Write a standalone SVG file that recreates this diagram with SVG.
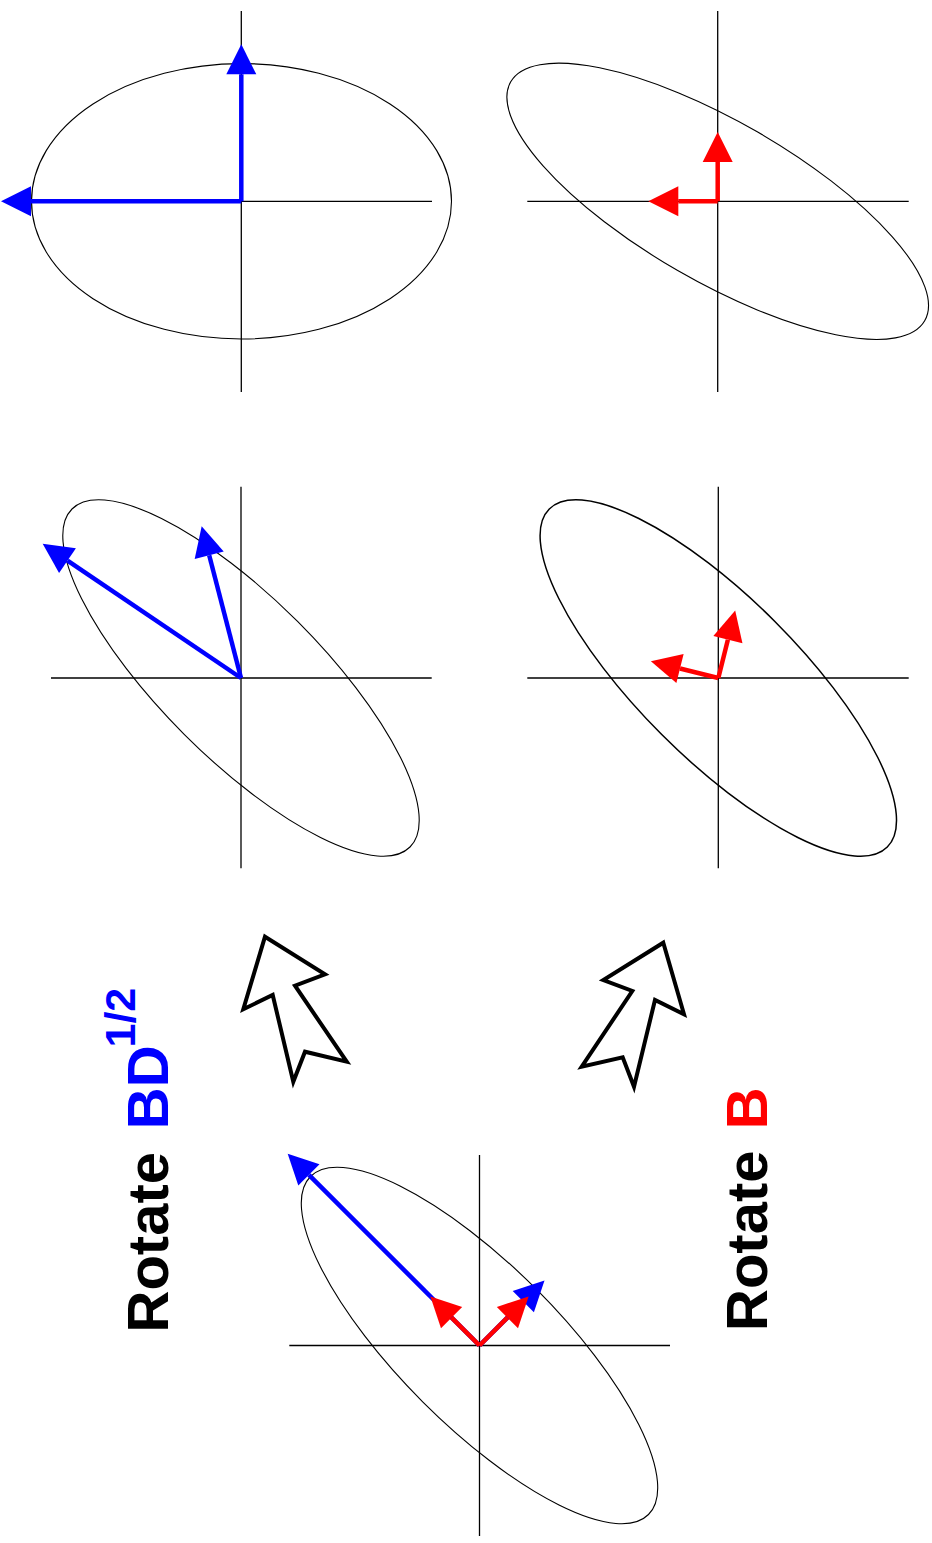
<svg xmlns="http://www.w3.org/2000/svg" width="932" height="1543" viewBox="0 0 932 1543">
<style>
.ax{stroke:#000;stroke-width:1.3;fill:none}
.el{stroke:#000;stroke-width:1.1;fill:none}
.bv{stroke:#0000ff;stroke-width:4.5;fill:none;marker-end:url(#ab)}
.rv{stroke:#ff0000;stroke-width:4.5;fill:none;marker-end:url(#ar)}
.big{fill:#fff;stroke:#000;stroke-width:4;stroke-linejoin:miter}
.lbl{font-family:"Liberation Sans",Arial,sans-serif;font-weight:bold;font-size:58px;fill:#000}
</style>
<defs>
<marker id="ab" markerUnits="userSpaceOnUse" markerWidth="30" markerHeight="30" refX="0" refY="13" viewBox="0 0 26 26" orient="auto" overflow="visible"><path d="M0,0 L26,13 L0,26 z" fill="#0000ff"/></marker>
<marker id="ar" markerUnits="userSpaceOnUse" markerWidth="30" markerHeight="30" refX="0" refY="13" viewBox="0 0 26 26" orient="auto" overflow="visible"><path d="M0,0 L26,13 L0,26 z" fill="#ff0000"/></marker>
</defs>
<rect width="932" height="1543" fill="#fff"/>

<g id="panel-top-left">
<line class="ax" x1="241.3" y1="11" x2="241.3" y2="392"/>
<line class="ax" x1="51" y1="201.3" x2="432" y2="201.3"/>
<ellipse class="el" cx="241.5" cy="201.3" rx="210" ry="137.7"/>
<line class="bv" x1="241.3" y1="201.3" x2="241.3" y2="74.3"/>
<line class="bv" x1="241.3" y1="201.3" x2="31" y2="201.3"/>
</g>

<g id="panel-top-right">
<line class="ax" x1="717.7" y1="11" x2="717.7" y2="392"/>
<line class="ax" x1="527.3" y1="201.3" x2="908.7" y2="201.3"/>
<ellipse class="el" cx="0" cy="0" rx="239" ry="80" transform="translate(717.7,201.3) rotate(30)"/>
<line class="rv" x1="717.7" y1="201.3" x2="717.7" y2="162"/>
<line class="rv" x1="717.7" y1="201.3" x2="678.3" y2="201.3"/>
</g>

<g id="panel-mid-left">
<line class="ax" x1="241" y1="486.7" x2="241" y2="868.3"/>
<line class="ax" x1="51" y1="678" x2="431.7" y2="678"/>
<ellipse class="el" cx="0" cy="0" rx="239" ry="80" transform="translate(241,678) rotate(45)"/>
<line class="bv" x1="241" y1="678" x2="67.5" y2="560.6"/>
<line class="bv" x1="241" y1="678" x2="209.2" y2="555.2"/>
</g>

<g id="panel-mid-right">
<line class="ax" x1="718.3" y1="486.7" x2="718.3" y2="868.3"/>
<line class="ax" x1="527.3" y1="678" x2="908.7" y2="678"/>
<ellipse class="el" style="stroke-width:1.5" cx="0" cy="0" rx="239" ry="80" transform="translate(718.3,678) rotate(45)"/>
<line class="rv" x1="718.3" y1="678" x2="727.9" y2="639.7"/>
<line class="rv" x1="718.3" y1="678" x2="680" y2="668.5"/>
</g>

<g id="panel-bottom">
<line class="ax" x1="479.5" y1="1155" x2="479.5" y2="1536"/>
<line class="ax" x1="289.3" y1="1345.5" x2="670" y2="1345.5"/>
<ellipse class="el" cx="0" cy="0" rx="239" ry="80" transform="translate(479.5,1345.5) rotate(45)"/>
<line class="bv" x1="479.5" y1="1345.5" x2="308.9" y2="1174.9"/>
<line class="bv" x1="479.5" y1="1345.5" x2="523.3" y2="1301.7"/>
<line class="rv" x1="479.5" y1="1345.5" x2="451.6" y2="1317.6"/>
<line class="rv" x1="479.5" y1="1345.5" x2="507.4" y2="1317.6"/>
</g>

<g id="connectors">
<polygon id="arrow-left" class="big" points="265,936.7 325,974.3 295,985.7 346.7,1061.7 305,1051.7 293.3,1081.7 272.7,995 243.3,1009.3"/>
<polygon id="arrow-right" class="big" points="663.3,942.7 684,1014.3 655,1000 634,1086.7 622.7,1057.3 581.7,1066.7 632.3,991 603.3,980"/>
</g>

<g id="label-left">
<text class="lbl" transform="translate(168,1332.5) rotate(-90)"><tspan x="0" y="0">Rotate</tspan><tspan x="203.3" y="0" fill="#0000ff">BD</tspan><tspan x="285" y="-33" fill="#0000ff" font-size="43">1/2</tspan></text>
</g>

<g id="label-right">
<text class="lbl" transform="translate(767,1331) rotate(-90)"><tspan x="0" y="0">Rotate</tspan><tspan x="201.8" y="0" fill="#ff0000">B</tspan></text>
</g>
</svg>
